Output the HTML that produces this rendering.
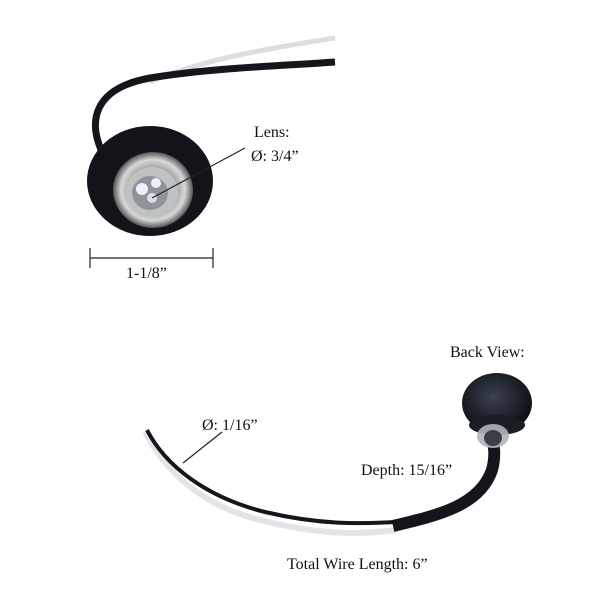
<!DOCTYPE html>
<html><head><meta charset="utf-8"><style>
body{margin:0;background:#fff}
svg{display:block}
text{font-family:"Liberation Serif",serif;font-size:16px;fill:#111}
</style></head><body>
<svg width="600" height="600" viewBox="0 0 600 600" xmlns="http://www.w3.org/2000/svg">
<defs>
<radialGradient id="lens" cx="50%" cy="50%" r="50%">
<stop offset="0" stop-color="#f4f4f4"/><stop offset="0.55" stop-color="#9a9a9a"/><stop offset="0.8" stop-color="#d8d8d8"/><stop offset="1" stop-color="#555"/>
</radialGradient>
<radialGradient id="dome" cx="45%" cy="40%" r="60%">
<stop offset="0" stop-color="#3a4150"/><stop offset="1" stop-color="#0c0e14"/>
</radialGradient>
</defs>
<path d="M150 82 C200 60 270 48 335 38" stroke="#ddd" stroke-width="5" fill="none"/>
<path d="M105 158 C85 120 95 88 150 78 C210 68 280 66 335 62" stroke="#14161c" stroke-width="7" fill="none"/>
<ellipse cx="150" cy="181" rx="63" ry="55" fill="#12141a"/>
<ellipse cx="153" cy="190" rx="40" ry="38" fill="url(#lens)"/>
<ellipse cx="152" cy="192" rx="26" ry="25" fill="#bfc2c4"/>
<ellipse cx="150" cy="193" rx="18" ry="17" fill="#8f9597"/>
<circle cx="142" cy="189" r="6" fill="#eef"/><circle cx="156" cy="183" r="5" fill="#eef"/><circle cx="152" cy="198" r="5" fill="#dde"/>
<line x1="245" y1="148" x2="152" y2="198" stroke="#222" stroke-width="1.2"/>
<text x="254" y="137">Lens:</text>
<text x="251" y="161">Ø: 3/4”</text>
<line x1="90" y1="258" x2="213" y2="258" stroke="#222" stroke-width="1.2"/>
<line x1="90" y1="248" x2="90" y2="268" stroke="#222" stroke-width="1.2"/>
<line x1="213" y1="248" x2="213" y2="268" stroke="#222" stroke-width="1.2"/>
<text x="126" y="278">1-1/8”</text>
<path d="M145 432 C165 470 200 505 260 520 C320 535 360 535 395 530" stroke="#e2e4e6" stroke-width="6" fill="none"/>
<path d="M147 430 C165 465 205 497 265 512 C320 525 360 524 395 522" stroke="#14161c" stroke-width="4" fill="none"/>
<path d="M393 526 C440 515 480 505 492 470 C496 455 494 445 492 438" stroke="#14161c" stroke-width="12" fill="none"/>
<ellipse cx="497" cy="403" rx="35" ry="30" fill="url(#dome)"/>
<ellipse cx="497" cy="425" rx="28" ry="10" fill="#1a1d24"/>
<ellipse cx="493" cy="436" rx="16" ry="12" fill="#b0b4b8" opacity="0.9"/>
<ellipse cx="493" cy="438" rx="9" ry="8" fill="#3a3f48"/>
<line x1="183" y1="463" x2="222" y2="432" stroke="#222" stroke-width="1.2"/>
<text x="450" y="357">Back View:</text>
<text x="202" y="430">Ø: 1/16”</text>
<text x="361" y="475">Depth: 15/16”</text>
<text x="287" y="569">Total Wire Length: 6”</text>
</svg>
</body></html>
